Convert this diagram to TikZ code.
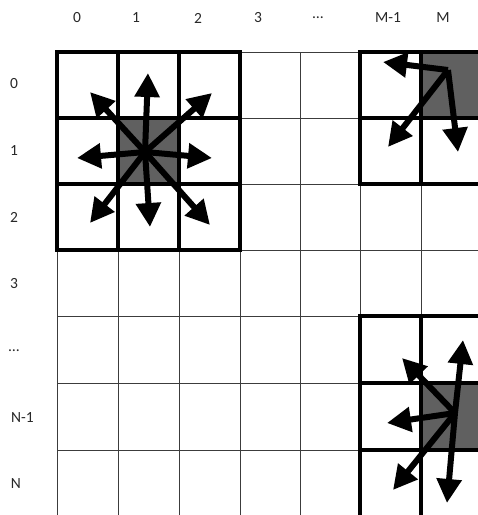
\documentclass[tikz,border=0pt]{standalone}
\usepackage{fontspec}
\setmainfont{Carlito}
\usetikzlibrary{arrows.meta}
\definecolor{shadecell}{RGB}{96,96,96}
\definecolor{thingrid}{RGB}{60,60,60}
\definecolor{labelcol}{RGB}{40,40,40}
\tikzset{
  thingridline/.style={draw=thingrid,line width=0.9pt},
  thickgridline/.style={draw=black,line width=4.5pt,line cap=rect},
  bigarrow/.style={draw=black,line width=6pt,-{Triangle[length=24pt,width=24pt]}},
  lbl/.style={font=\fontsize{15.5}{18}\selectfont,text=labelcol,inner sep=0pt}
}
\begin{document}
\begin{tikzpicture}[x=1pt,y=-1pt]
\useasboundingbox (0,0) rectangle (478,515);
\clip (0,0) rectangle (478,515);
\fill[white] (0,0) rectangle (478,515);
% shaded cells
\fill[shadecell] (118,118) rectangle (179,184);
\fill[shadecell] (421,52) rectangle (480,118);
\fill[shadecell] (421,383) rectangle (480,450);
% thin grid
\foreach \x in {57,118,179,240,300,360,421} \draw[thingridline] (\x,52) -- (\x,520);
\foreach \y in {52,118,184,250,316,383,450} \draw[thingridline] (57,\y) -- (485,\y);
% thick blocks
\draw[thickgridline] (57,52) rectangle (240,250);
\draw[thickgridline] (118,52) -- (118,250);
\draw[thickgridline] (179,52) -- (179,250);
\draw[thickgridline] (57,118) -- (240,118);
\draw[thickgridline] (57,184) -- (240,184);
\draw[thickgridline] (490,52) -- (360,52) -- (360,184) -- (490,184);
\draw[thickgridline] (421,52) -- (421,184);
\draw[thickgridline] (360,118) -- (490,118);
\draw[thickgridline] (490,316) -- (360,316) -- (360,525);
\draw[thickgridline] (421,316) -- (421,525);
\draw[thickgridline] (360,383) -- (490,383);
\draw[thickgridline] (360,450) -- (490,450);
% labels
\node[lbl] (c0) at (77,18) {0};
\node[lbl] (c1) at (136,18) {1};
\node[lbl] (c2) at (198,18) {2};
\node[lbl] (c3) at (258,18) {3};
\node[lbl] (c4) at (318,18) {…};
\node[lbl] (c5) at (388,18) {M-1};
\node[lbl] (c6) at (443,18) {M};
\node[lbl] (r0) at (14,84) {0};
\node[lbl] (r1) at (14,151) {1};
\node[lbl] (r2) at (14,217) {2};
\node[lbl] (r3) at (14,284) {3};
\node[lbl] (r4) at (14,351) {…};
\node[lbl] (r5) at (22.5,418) {N-1};
\node[lbl] (r6) at (16,484) {N};
% arrows: left block
\coordinate (oA) at (145,152);
\coordinate (tA1) at (148,73);
\coordinate (tA2) at (212,93);
\coordinate (tA3) at (212,158);
\coordinate (tA4) at (210,225);
\coordinate (tA5) at (150,227);
\coordinate (tA6) at (90,223);
\coordinate (tA7) at (77,158);
\coordinate (tA8) at (90,92);
\foreach \t in {tA1,tA2,tA3,tA4,tA5,tA6,tA7,tA8} \draw[bigarrow] (oA) -- (\t);
% arrows: top right
\coordinate (oB) at (448,70);
\coordinate (tB1) at (383,62);
\coordinate (tB2) at (388,147);
\coordinate (tB3) at (458,152);
\foreach \t in {tB1,tB2,tB3} \draw[bigarrow] (oB) -- (\t);
% arrows: bottom right
\coordinate (oC) at (455,413);
\coordinate (tC1) at (402,358);
\coordinate (tC2) at (463,340);
\coordinate (tC3) at (387,423);
\coordinate (tC4) at (393,490);
\coordinate (tC5) at (447,503);
\foreach \t in {tC1,tC2,tC3,tC4,tC5} \draw[bigarrow] (oC) -- (\t);
\end{tikzpicture}
\end{document}
